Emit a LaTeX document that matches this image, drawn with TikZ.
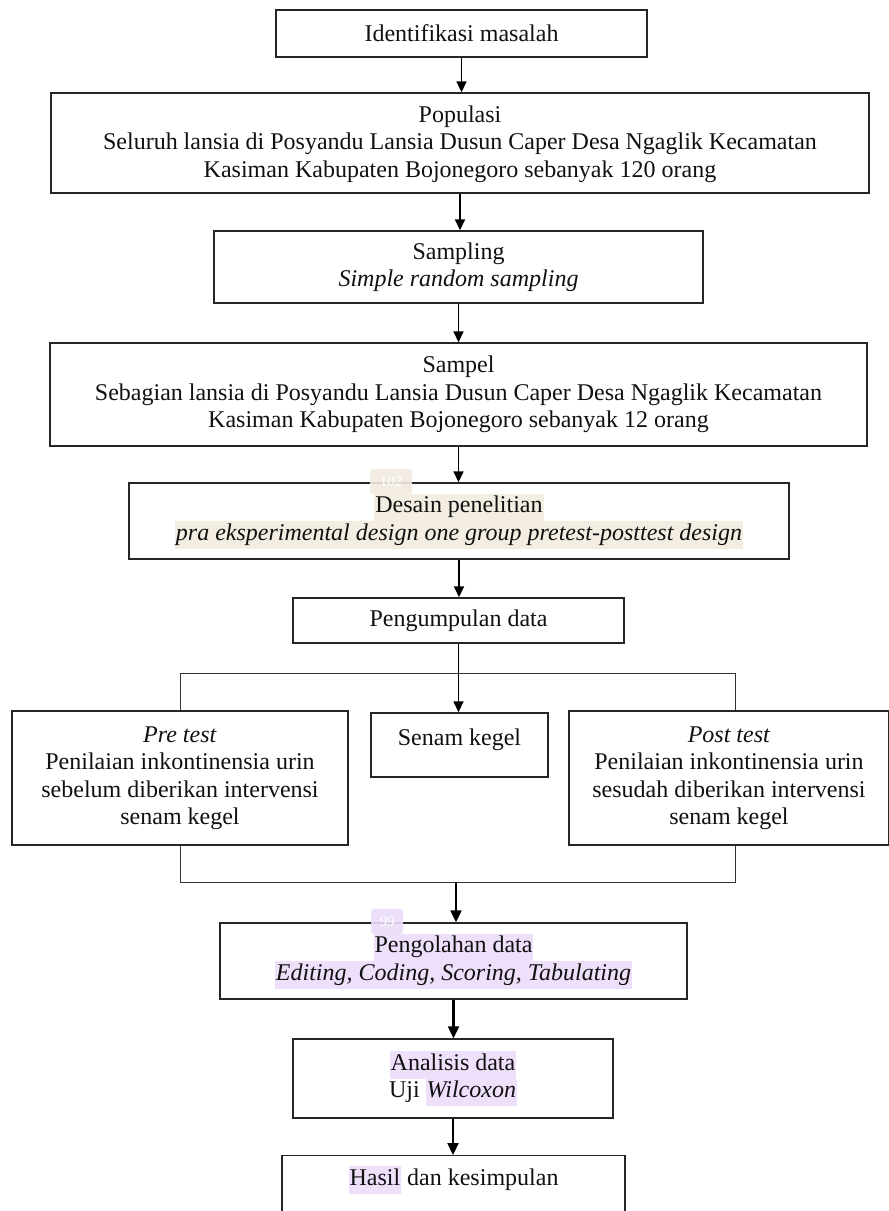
\documentclass[tikz,border=0pt]{standalone}
\usepackage{fontspec}
\setmainfont{Liberation Serif}
\usetikzlibrary{arrows.meta,calc}
\definecolor{hlbeige}{HTML}{F4EDE2}
\definecolor{hllav}{HTML}{EEDFFB}
\definecolor{badgebeige}{HTML}{F1EBE1}
\definecolor{badgelav}{HTML}{EBDDF9}
\definecolor{inkc}{HTML}{111111}
\newcommand{\hlb}[1]{{\setlength{\fboxsep}{0pt}\colorbox{hlbeige}{\hspace{1pt}\strut #1\hspace{1pt}}}}
\newcommand{\hll}[1]{{\setlength{\fboxsep}{0pt}\colorbox{hllav}{\hspace{1pt}\strut #1\hspace{1pt}}}}
\tikzset{
  box/.style={draw=black!85, line width=1.4pt, align=center, inner sep=0pt,
    text=inkc, font=\fontsize{24}{27.5}\selectfont},
  arr/.style={-{Triangle[length=11pt,width=10pt]}, line width=1.6pt, draw=black},
  arrthick/.style={-{Triangle[length=12pt,width=11pt]}, line width=2.2pt, draw=black},
  conn/.style={line width=1pt, draw=black!80},
  badge/.style={rounded corners=3pt, text=white, inner sep=0pt, opacity=0.9,
    text opacity=1, font=\fontsize{15}{17}\selectfont, minimum height=25pt}
}
\begin{document}
\begin{tikzpicture}[x=1pt,y=-1pt]
\useasboundingbox (0,0) rectangle (889,1211);
\fill[white] (0,0) rectangle (889,1211);
\clip (0,0) rectangle (889,1211);

\node[box, minimum width=371pt, minimum height=47pt] (A) at (461.5,33.5) {Identifikasi masalah};
\node[box, minimum width=818pt, minimum height=100pt, text depth=3pt] (B) at (460,143)
  {Populasi\\Seluruh lansia di Posyandu Lansia Dusun Caper Desa Ngaglik Kecamatan\\Kasiman Kabupaten Bojonegoro sebanyak 120 orang};
\node[box, minimum width=489pt, minimum height=72pt] (C) at (458.5,267)
  {Sampling\\\textit{Simple random sampling}};
\node[box, minimum width=817pt, minimum height=103pt] (D) at (458.5,394.5)
  {Sampel\\Sebagian lansia di Posyandu Lansia Dusun Caper Desa Ngaglik Kecamatan\\Kasiman Kabupaten Bojonegoro sebanyak 12 orang};
\node[box, minimum width=660pt, minimum height=76pt] (E) at (459,521)
  {\hlb{Desain penelitian}\\\hlb{\itshape pra eksperimental design one group pretest-posttest design}};
\node[box, minimum width=331pt, minimum height=45pt] (F) at (458.5,620.5) {Pengumpulan data};
\node[box, minimum width=336pt, minimum height=134pt] (G) at (180,778)
  {\textit{Pre test}\\Penilaian inkontinensia urin\\sebelum diberikan intervensi\\senam kegel};
\node[box, minimum width=177pt, minimum height=64pt, text depth=16pt, text height=17pt] (H) at (459.5,745) {Senam kegel};
\node[box, minimum width=320pt, minimum height=134pt] (I) at (729,778)
  {\textit{Post test}\\Penilaian inkontinensia urin\\sesudah diberikan intervensi\\senam kegel};
\node[box, minimum width=467pt, minimum height=76pt] (J) at (453.5,961)
  {\hll{Pengolahan data}\\\hll{\itshape Editing, Coding, Scoring, Tabulating}};
\node[box, minimum width=320pt, minimum height=79pt] (K) at (453,1078.5)
  {\hll{Analisis data}\\Uji \hll{\itshape Wilcoxon}};
\node[box, minimum width=343pt, text height=17pt, text depth=70pt, inner ysep=13pt, anchor=north] (L) at (453.5,1155)
  {\hll{Hasil} dan kesimpulan};

% connectors
\draw[arr] (A.south) -- (A.south |- B.north);
\draw[arr] (B.south) -- (B.south |- C.north);
\draw[arr] (C.south) -- (C.south |- D.north);
\draw[arr] (D.south) -- (D.south |- E.north);
\draw[arr] (E.south) -- (E.south |- F.north);

\coordinate (br) at (735,673);
\coordinate (br2) at (735,882);
\coordinate (m) at (456,882);
\draw[conn] (G.north) |- (br) -- (br |- I.north);
\draw[conn] (G.south) |- (br2) -- (br2 |- I.south);
\draw[arr] (F.south) -- (F.south |- H.north);
\draw[arrthick] (m) -- (m |- J.north);
\draw[arrthick] (J.south) -- (J.south |- K.north);
\draw[arrthick] (K.south) -- (K.south |- L.north);

% page markers
\node[badge, fill=badgebeige, minimum width=42pt] (b102) at (391,481.5) {102};
\node[badge, fill=badgelav, minimum width=32pt] (b99) at (387,921.5) {99};
\end{tikzpicture}
\end{document}
